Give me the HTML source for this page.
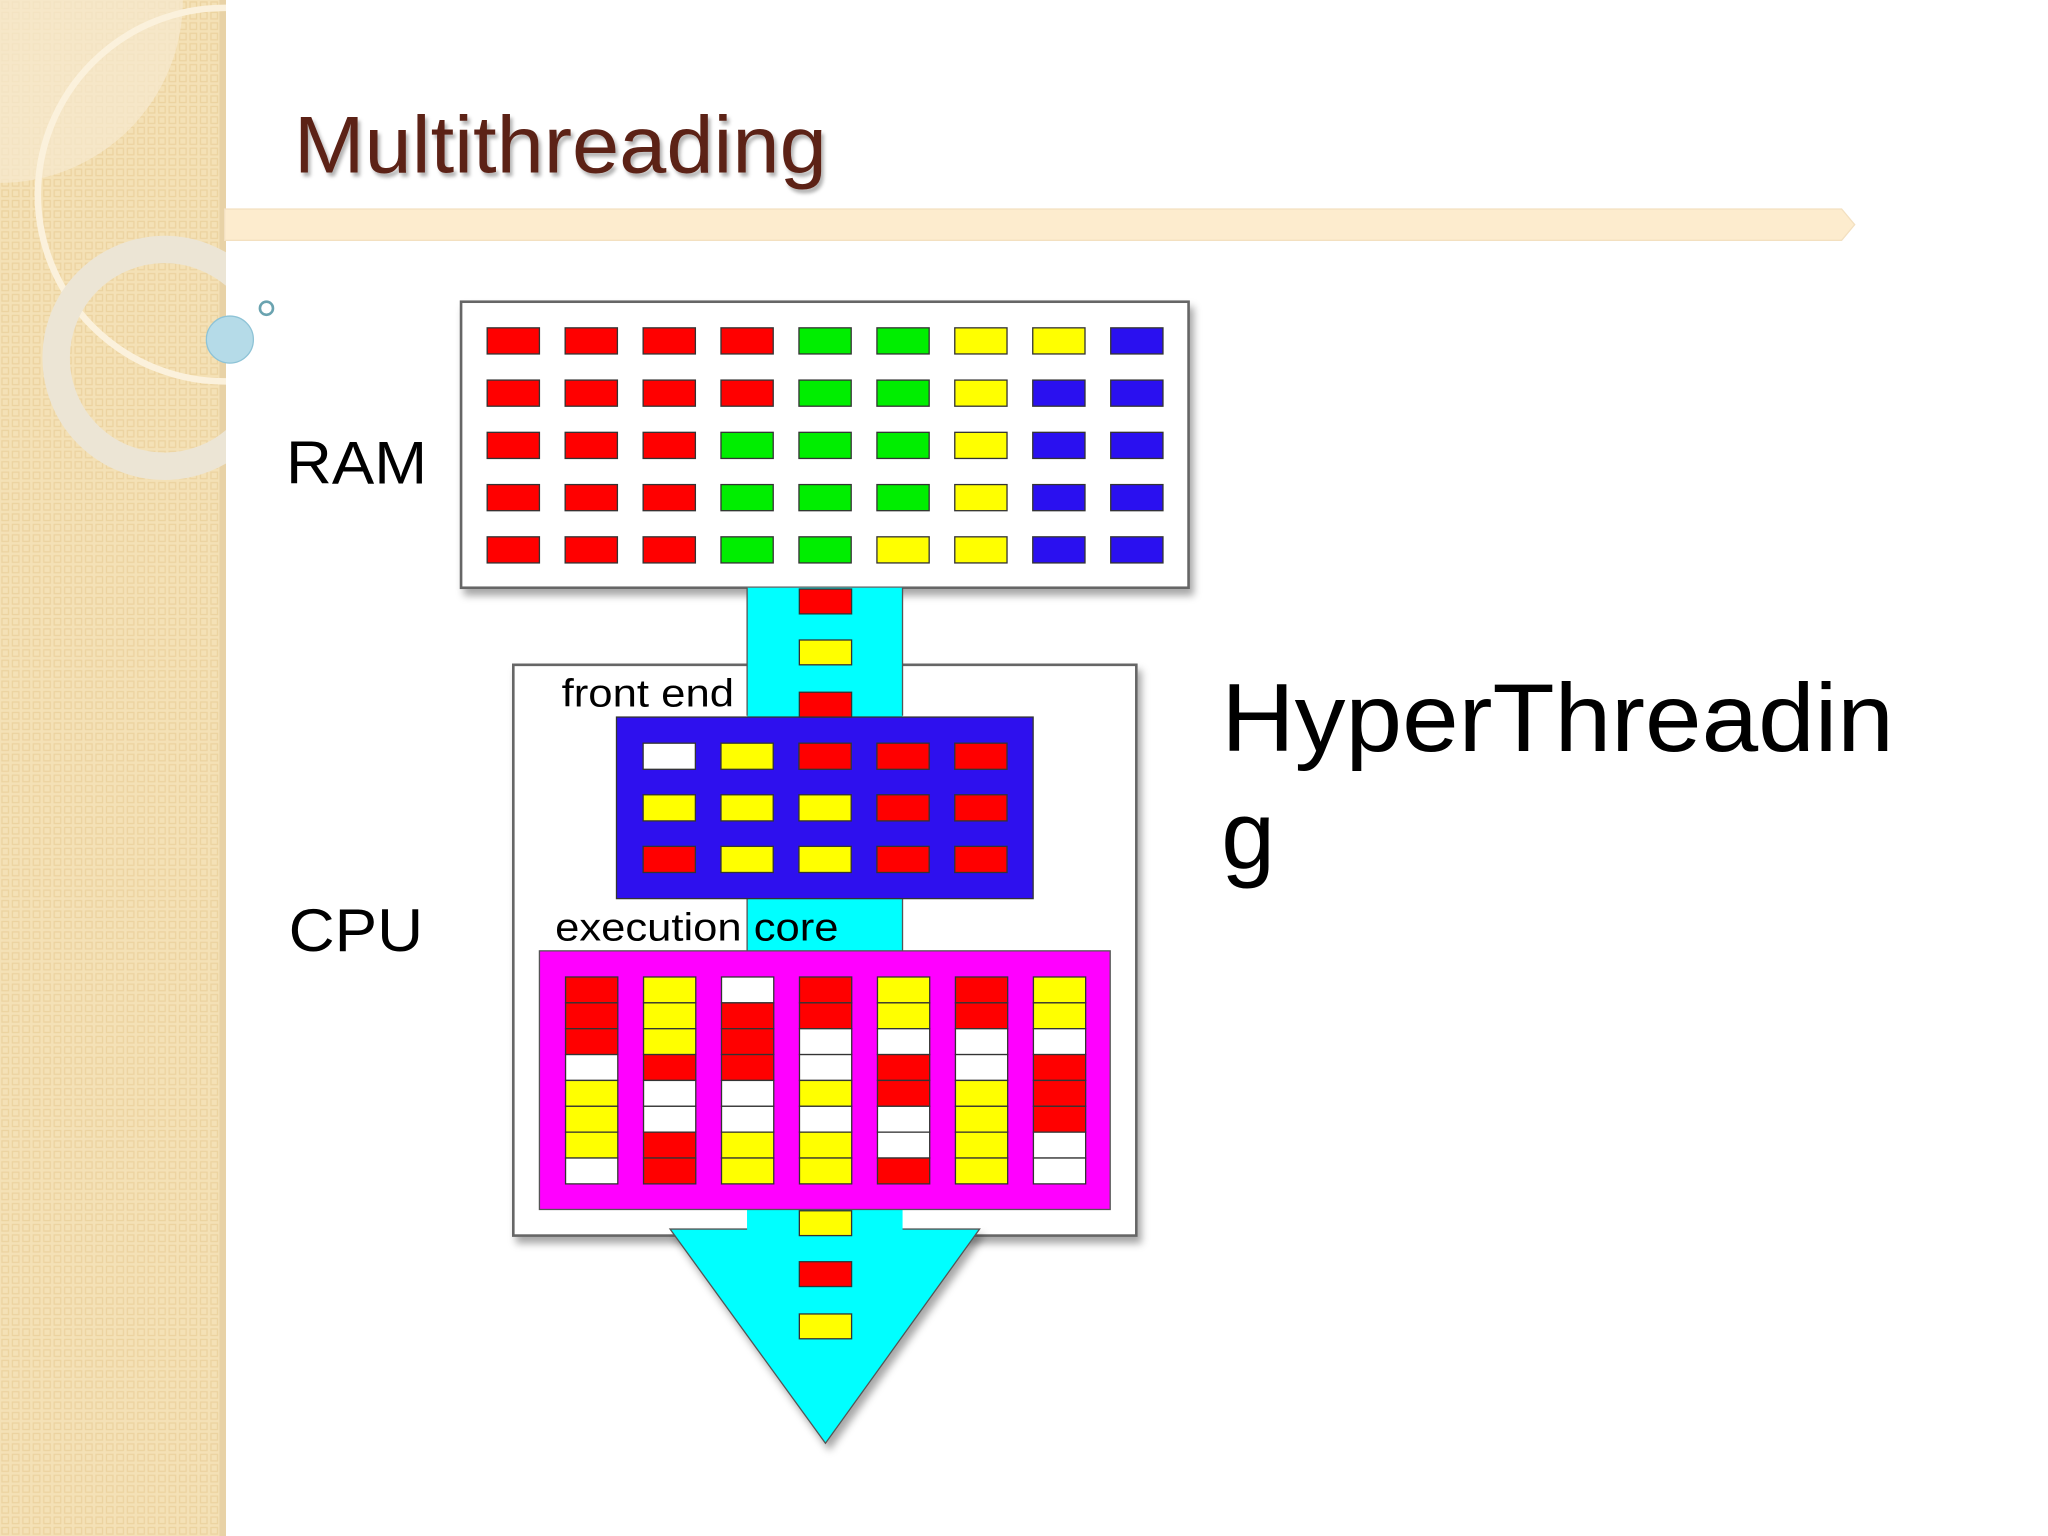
<!DOCTYPE html>
<html><head><meta charset="utf-8"><style>
html,body{margin:0;padding:0;background:#fff;width:2048px;height:1536px;overflow:hidden}
svg{display:block}
text{font-family:"Liberation Sans",sans-serif}
</style></head><body>
<svg width="2048" height="1536" viewBox="0 0 1568 1176" preserveAspectRatio="none" xmlns="http://www.w3.org/2000/svg">
<defs>
<pattern id="pt" width="8" height="8" patternUnits="userSpaceOnUse">
<rect width="8" height="8" fill="#f4e1b6"/>
<rect x="1.5" y="1.5" width="5" height="5" fill="none" stroke="#ecd3a0" stroke-width="1"/>
</pattern>
<clipPath id="band"><rect x="0" y="0" width="173" height="1176"/></clipPath>
<filter id="sh" x="-10%" y="-10%" width="130%" height="130%"><feDropShadow dx="3" dy="5" stdDeviation="3" flood-color="#000" flood-opacity="0.35"/></filter>
<filter id="tsh"><feDropShadow dx="2" dy="3" stdDeviation="1.5" flood-color="#000" flood-opacity="0.3"/></filter>
</defs>
<rect x="0" y="0" width="173" height="1176" fill="url(#pt)"/>
<rect x="168" y="0" width="5" height="1176" fill="#e8d2a6"/>
<g clip-path="url(#band)">
<path d="M0 0 H140 A140 140 0 0 1 0 140 Z" fill="#f7ead0" opacity="0.7"/>
<circle cx="172" cy="149" r="143" fill="none" stroke="#fbf1dc" stroke-width="5"/>
<circle cx="126" cy="274" r="83" fill="none" stroke="#ece5d5" stroke-width="21"/>
</g>
<circle cx="176" cy="260" r="18" fill="#b5dbe8" stroke="#8ec3d6" stroke-width="1"/>
<circle cx="204" cy="236" r="5" fill="none" stroke="#6aa3b0" stroke-width="2"/>
<text x="225" y="132" font-size="62" fill="#5c2218" textLength="408" lengthAdjust="spacingAndGlyphs" filter="url(#tsh)">Multithreading</text>
<path d="M172 160 H1410 L1420 172 L1410 184 H172 Z" fill="#fdecce" stroke="#f3e0c0" stroke-width="1"/>
<text x="219" y="370" font-size="46" fill="#000" textLength="108" lengthAdjust="spacingAndGlyphs">RAM</text>
<text x="221" y="728" font-size="46" fill="#000" textLength="103" lengthAdjust="spacingAndGlyphs">CPU</text>
<text x="935" y="575" font-size="74" fill="#000" textLength="515" lengthAdjust="spacingAndGlyphs">HyperThreadin</text>
<text x="935" y="665" font-size="74" fill="#000">g</text>
<rect x="353" y="231" width="557" height="219" fill="#fff" stroke="#666" stroke-width="2" filter="url(#sh)"/>
<rect x="393" y="509" width="477" height="437" fill="#fff" stroke="#666" stroke-width="2" filter="url(#sh)"/>
<rect x="572" y="450" width="119" height="492" fill="#00ffff"/>
<line x1="572" y1="450" x2="572" y2="548" stroke="#555" stroke-width="1"/>
<line x1="691" y1="450" x2="691" y2="548" stroke="#555" stroke-width="1"/>
<line x1="572" y1="688" x2="572" y2="728" stroke="#555" stroke-width="1"/>
<line x1="691" y1="688" x2="691" y2="728" stroke="#555" stroke-width="1"/>
<path d="M513 941 H750 L632 1105 Z" fill="#00ffff" stroke="#555" stroke-width="1" filter="url(#sh)"/>
<rect x="572" y="926" width="119" height="20" fill="#00ffff"/>
<text x="430" y="541" font-size="30" fill="#000" textLength="132" lengthAdjust="spacingAndGlyphs">front end</text>
<text x="425" y="720" font-size="30" fill="#000" textLength="217" lengthAdjust="spacingAndGlyphs">execution core</text>
<rect x="472" y="549" width="319" height="139" fill="#2e10ee" stroke="#333" stroke-width="1"/>
<rect x="413" y="728" width="437" height="198" fill="#ff00ff" stroke="#555" stroke-width="1"/>
<g id="cells" stroke="#333" stroke-width="1"></g>
</svg>
<script>
(function(){
var NS="http://www.w3.org/2000/svg";
var C={R:"#ff0000",G:"#00ee00",Y:"#ffff00",B:"#2a10f0",W:"#ffffff"};
var g=document.getElementById("cells");
function r(x,y,w,h,c){var e=document.createElementNS(NS,"rect");e.setAttribute("x",x);e.setAttribute("y",y);e.setAttribute("width",w);e.setAttribute("height",h);e.setAttribute("fill",C[c]);g.appendChild(e);}
var ram=["RRRRGGYYB","RRRRGGYBB","RRRGGGYBB","RRRGGGYBB","RRRGGYYBB"];
var xs=[373,432.7,492.4,552,611.7,671.4,731,790.7,850.4];
ram.forEach(function(s,i){for(var j=0;j<9;j++)r(xs[j],251+i*40,40,20,s[j]);});
var fe=["WYRRR","YYYRR","RYYRR"];
fe.forEach(function(s,i){for(var j=0;j<5;j++)r(xs[j+2],569+i*39.5,40,20,s[j]);});
var ex=["RRRWYYYW","YYYRWWRR","WRRRWWYY","RRWWYWYY","YYWRRWWR","RRWWYYYY","YYWRRRWW"];
ex.forEach(function(s,j){for(var i=0;i<8;i++)r(433+j*59.7,748+i*19.8,40,19.8,s[i]);});
[[451,"R"],[490,"Y"],[530,"R"],[927,"Y"],[966,"R"],[1006,"Y"]].forEach(function(a){r(612,a[0],40,19,a[1]);});
})();
</script>
</body></html>
